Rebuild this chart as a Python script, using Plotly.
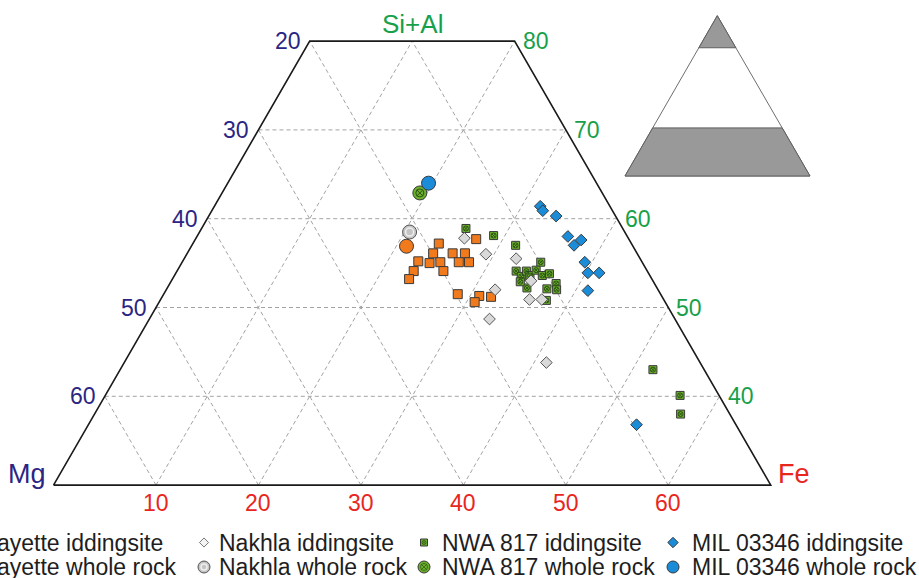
import plotly.graph_objects as go

# ---------------- data (Fe and Si+Al in %, Mg = 100 - Fe - Si+Al) ----------------
laf_idd_fe   = [24.0, 27.4, 24.0, 25.9, 27.1, 23.0, 24.2, 25.2, 27.0, 28.0, 23.1, 26.0, 23.1, 28.7, 30.9, 30.8, 32.1]
laf_idd_sial = [57.2, 57.7, 56.1, 56.1, 56.1, 55.2, 55.0, 55.1, 55.1, 55.1, 54.1, 54.1, 53.2, 51.5, 51.3, 50.6, 51.2]

nak_idd_fe   = [26.2, 29.2, 32.4, 35.1, 32.1, 36.0, 37.2, 33.2, 41.2]
nak_idd_sial = [57.8, 56.0, 55.5, 53.0, 52.0, 50.9, 50.9, 48.7, 43.8]

nwa_idd_fe   = [25.8, 28.9, 31.6, 35.0, 33.1, 33.9, 34.1, 34.7, 35.0, 35.9, 36.5, 35.1, 37.1, 37.7, 38.1, 37.7, 34.1, 52.0, 56.1, 57.2]
nwa_idd_sial = [58.9, 58.1, 57.0, 55.1, 54.1, 53.5, 54.1, 53.6, 54.2, 53.6, 53.8, 52.2, 52.1, 52.7, 52.0, 50.8, 52.9, 43.0, 40.1, 38.0]

mil_idd_fe   = [31.8, 32.3, 33.9, 36.2, 37.3, 37.7, 39.3, 40.2, 41.3, 41.2, 53.5]
mil_idd_sial = [61.4, 60.9, 60.3, 58.0, 57.0, 57.6, 55.1, 53.9, 53.9, 51.9, 36.8]

laf_wr_fe, laf_wr_sial = [21.0], [56.9]
nak_wr_fe, nak_wr_sial = [20.5], [58.5]
nwa_wr_fe, nwa_wr_sial = [19.3], [62.9]
mil_wr_fe, mil_wr_sial = [19.6], [64.0]

left_ticks   = [20, 30, 40, 50, 60]        # Mg
right_ticks  = [80, 70, 60, 50, 40]        # Si+Al
bottom_ticks = [10, 20, 30, 40, 50, 60]    # Fe
grid_steps   = [10, 20, 30, 40, 50, 60]

SIAL_MIN, SIAL_MAX = 30, 80

# ---------------- geometry ----------------
W, H = 919, 578
PX0, PXK = -100.15, 10.246   # pixel x = PX0 + PXK * (Fe + SiAl/2)
PY0, PYK = 751.5, 8.88       # pixel y = PY0 - PYK * SiAl


def tx(fe, sial):
    return [f + s / 2.0 for f, s in zip(fe, sial)]


def px2x(px):
    return (px - PX0) / PXK


def py2y(py):
    return (PY0 - py) / PYK


def pp(px, py):  # pixel -> paper
    return px / W, 1 - py / H


NAVY = '#2B2583'
GREENT = '#17A04A'
RED = '#E8261E'
OUT = '#3A3A3A'
ORANGE = '#F07A1C'
GREY = '#D9D9D9'
GREEN = '#6CAF2E'
DKGREEN = '#2A5410'
BLUE = '#1A8CD8'
FONT = 'Liberation Sans, Arial, sans-serif'

fig = go.Figure()

# ---------------- grid ----------------
gfe, gs = [], []
for s in [40, 50, 60, 70]:
    gfe += [0, 100 - s, None]
    gs += [s, s, None]
for f in grid_steps:
    gfe += [f, f, None]
    gs += [SIAL_MIN, min(SIAL_MAX, 100 - f), None]
for m in grid_steps:
    gfe += [70 - m, (20 - m) if m <= 20 else 0, None]
    gs += [SIAL_MIN, SIAL_MAX if m <= 20 else 100 - m, None]
gx = [None if f is None else f + s / 2.0 for f, s in zip(gfe, gs)]
fig.add_trace(go.Scatter(x=gx, y=gs, mode='lines', hoverinfo='skip',
                         line=dict(color='#A3A3A3', width=1, dash='4px,3px')))

# ---------------- border ----------------
bfe = [0, 70, 20, 0, 0]
bs = [30, 30, 80, 80, 30]
fig.add_trace(go.Scatter(x=tx(bfe, bs), y=bs, mode='lines', hoverinfo='skip',
                         line=dict(color='#1A1A1A', width=1.6)))

# ---------------- data ----------------
def sc(fe, sial, symbol, size, color, lc=OUT, lw=1):
    fig.add_trace(go.Scatter(x=tx(fe, sial), y=sial, mode='markers',
                             marker=dict(symbol=symbol, size=size, color=color,
                                         line=dict(color=lc, width=lw))))


sc(laf_idd_fe, laf_idd_sial, 'square', 9, ORANGE)
sc(nwa_idd_fe, nwa_idd_sial, 'square', 8, GREEN)
sc(nwa_idd_fe, nwa_idd_sial, 'circle-x-open', 5, DKGREEN, DKGREEN, 1)
sc(nak_idd_fe, nak_idd_sial, 'diamond', 9, GREY, '#555555')
sc(mil_idd_fe, mil_idd_sial, 'diamond', 9, BLUE)
sc(nak_wr_fe, nak_wr_sial, 'circle', 14, '#C4C4C4', '#555555')
sc(nak_wr_fe, nak_wr_sial, 'circle-open', 8, '#EFEFEF', '#EFEFEF', 1.5)
sc(laf_wr_fe, laf_wr_sial, 'circle', 14, ORANGE)
sc(nwa_wr_fe, nwa_wr_sial, 'circle', 14, GREEN)
sc(nwa_wr_fe, nwa_wr_sial, 'circle-x-open', 8, DKGREEN, DKGREEN, 1)
sc(mil_wr_fe, mil_wr_sial, 'circle', 14, BLUE)

# ---------------- legend (manual) ----------------
ROW1, ROW2 = 542.5, 567.0
cols_marker = [-50, 204, 424, 673]
cols_text = [-37, 217, 440, 690]
legend_rows = [
    ["Lafayette iddingsite", "Nakhla iddingsite", "NWA 817 iddingsite", "MIL 03346 iddingsite"],
    ["Lafayette whole rock", "Nakhla whole rock", "NWA 817 whole rock", "MIL 03346 whole rock"],
]
leg_styles = [
    [dict(symbol='square', size=8, color=ORANGE, line=dict(color=OUT, width=1)),
     dict(symbol='diamond', size=7, color='#F4F4F4', line=dict(color='#777777', width=1)),
     dict(symbol='square', size=7, color=GREEN, line=dict(color=OUT, width=1)),
     dict(symbol='diamond', size=8, color=BLUE, line=dict(color=OUT, width=1))],
    [dict(symbol='circle', size=12, color=ORANGE, line=dict(color=OUT, width=1)),
     dict(symbol='circle', size=12, color='#C4C4C4', line=dict(color='#555555', width=1)),
     dict(symbol='circle', size=12, color=GREEN, line=dict(color=OUT, width=1)),
     dict(symbol='circle', size=12, color=BLUE, line=dict(color=OUT, width=1))],
]
annotations = []
for r, rowy in enumerate([ROW1, ROW2]):
    for c in range(4):
        fig.add_trace(go.Scatter(x=[px2x(cols_marker[c])], y=[py2y(rowy)], mode='markers',
                                 marker=leg_styles[r][c], cliponaxis=False, hoverinfo='skip'))
        ax, ay = pp(cols_text[c], rowy)
        annotations.append(dict(x=ax, y=ay, xref='paper', yref='paper', text=legend_rows[r][c],
                                showarrow=False, xanchor='left', yanchor='middle',
                                font=dict(family=FONT, size=23, color='#1E1E1E')))
# inner details of legend whole-rock markers
fig.add_trace(go.Scatter(x=[px2x(cols_marker[1])], y=[py2y(ROW2)], mode='markers', hoverinfo='skip',
                         marker=dict(symbol='circle-open', size=6, color='#EFEFEF', line=dict(width=1.5))))
fig.add_trace(go.Scatter(x=[px2x(cols_marker[2]), px2x(cols_marker[2])], y=[py2y(ROW1), py2y(ROW2)],
                         mode='markers', hoverinfo='skip',
                         marker=dict(symbol='circle-x-open', size=[4, 7], color=DKGREEN, line=dict(width=1))))

# ---------------- tick labels ----------------
for m in left_ticks:
    s = 100 - m
    annotations.append(dict(x=s / 2.0, y=s, text=str(m), showarrow=False, xanchor='right',
                            yanchor='middle', xshift=-7, font=dict(family=FONT, size=23, color=NAVY)))
for s in right_ticks:
    f = 100 - s
    annotations.append(dict(x=f + s / 2.0, y=s, text=str(s), showarrow=False, xanchor='left',
                            yanchor='middle', xshift=6, font=dict(family=FONT, size=23, color=GREENT)))
for f in bottom_ticks:
    annotations.append(dict(x=f + SIAL_MIN / 2.0, y=SIAL_MIN, text=str(f), showarrow=False,
                            xanchor='center', yanchor='top', yshift=-3,
                            font=dict(family=FONT, size=23, color=RED)))

# vertex labels
annotations.append(dict(x=10 + SIAL_MAX / 2.0, y=SIAL_MAX, text='Si+Al', showarrow=False,
                        xanchor='center', yanchor='bottom', yshift=0,
                        font=dict(family=FONT, size=26, color=GREENT)))
annotations.append(dict(x=SIAL_MIN / 2.0, y=SIAL_MIN, text='Mg', showarrow=False,
                        xanchor='right', yanchor='bottom', xshift=-6, yshift=-6,
                        font=dict(family=FONT, size=27, color=NAVY)))
annotations.append(dict(x=70 + SIAL_MIN / 2.0, y=SIAL_MIN, text='Fe', showarrow=False,
                        xanchor='left', yanchor='bottom', xshift=5, yshift=-6,
                        font=dict(family=FONT, size=27, color=RED)))

# ---------------- inset triangle ----------------
apex, bl, br = (717.3, 15.7), (625.0, 176.0), (810.0, 176.0)


def lvl(t):
    y = apex[1] + t * (bl[1] - apex[1])
    xl = apex[0] + t * (bl[0] - apex[0])
    xr = apex[0] + t * (br[0] - apex[0])
    return (xl, y), (xr, y)


def path(pts):
    return 'M ' + ' L '.join('%.5f,%.5f' % pp(*p) for p in pts) + ' Z'


t_top = (100 - SIAL_MAX) / 100.0
t_bot = (100 - SIAL_MIN) / 100.0
(a1, a2) = lvl(t_top)
(b1, b2) = lvl(t_bot)
shapes = [
    dict(type='path', xref='paper', yref='paper', path=path([apex, bl, br]),
         fillcolor='white', line=dict(color='#6E6E6E', width=1)),
    dict(type='path', xref='paper', yref='paper', path=path([apex, a1, a2]),
         fillcolor='#999999', line=dict(color='#5E5E5E', width=1)),
    dict(type='path', xref='paper', yref='paper', path=path([b1, bl, br, b2]),
         fillcolor='#999999', line=dict(color='#5E5E5E', width=1)),
]

fig.update_layout(
    width=W, height=H, autosize=False,
    margin=dict(l=0, r=0, t=0, b=0, pad=0, autoexpand=False),
    paper_bgcolor='white', plot_bgcolor='white', showlegend=False,
    xaxis=dict(visible=False, range=[px2x(0), px2x(W)], fixedrange=True),
    yaxis=dict(visible=False, range=[py2y(H), py2y(0)], fixedrange=True),
    annotations=annotations, shapes=shapes,
)

fig.write_html("out.html", config={'displayModeBar': False},
               post_script="document.body.style.margin='0';document.body.style.overflow='hidden';")
